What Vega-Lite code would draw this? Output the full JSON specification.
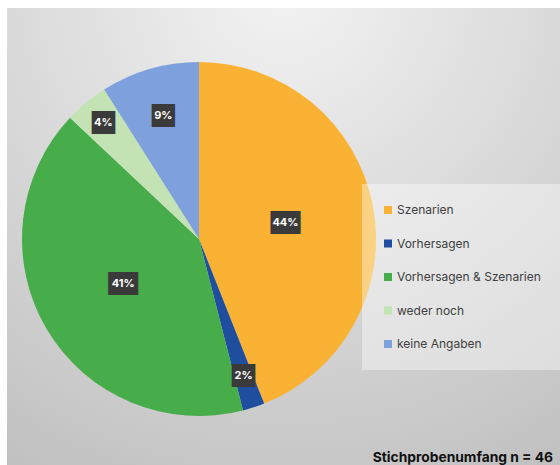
{
  "$schema": "https://vega.github.io/schema/vega-lite/v6.json",
  "width": 553,
  "height": 457,
  "autosize": {"type": "none"},
  "padding": {"left": 7, "top": 8, "right": 0, "bottom": 0},
  "background": "white",
  "config": {"view": {"stroke": null}, "font": "Inter"},
  "title": {
    "text": "Stichprobenumfang n = 46",
    "orient": "bottom",
    "anchor": "end",
    "frame": "group",
    "offset": -14,
    "dx": -7,
    "fontSize": 13.8,
    "fontWeight": "bold",
    "color": "#111111",
    "font": "Inter"
  },
  "datasets": {
    "d": [
      {"cat": "Szenarien", "pct": 44, "idx": 1},
      {"cat": "Vorhersagen", "pct": 2, "idx": 2},
      {"cat": "Vorhersagen & Szenarien", "pct": 41, "idx": 3},
      {"cat": "weder noch", "pct": 4, "idx": 4},
      {"cat": "keine Angaben", "pct": 9, "idx": 5}
    ]
  },
  "layer": [
    {
      "data": {"values": [{}]},
      "mark": {
        "type": "rect",
        "fill": {
          "gradient": "radial",
          "x1": 0.5, "y1": 0.05, "r1": 0,
          "x2": 0.5, "y2": 0.05, "r2": 1.0,
          "stops": [
            {"offset": 0, "color": "#f3f3f3"},
            {"offset": 1, "color": "#c0c0c0"}
          ]
        }
      },
      "encoding": {}
    },
    {
      "data": {"name": "d"},
      "mark": {"type": "arc", "outerRadius": 177, "x": 192, "y": 231},
      "encoding": {
        "theta": {"field": "pct", "type": "quantitative", "stack": true, "scale": {"domain": [0, 100]}},
        "order": {"field": "idx", "type": "quantitative"},
        "color": {
          "field": "cat",
          "type": "nominal",
          "scale": {
            "domain": ["Szenarien", "Vorhersagen", "Vorhersagen & Szenarien", "weder noch", "keine Angaben"],
            "range": ["#F9B233", "#1F4E9E", "#47AD4B", "#C4E3B4", "#7EA1DE"]
          },
          "legend": {
            "orient": "none",
            "legendX": 355,
            "legendY": 176,
            "title": null,
            "symbolType": "square",
            "symbolSize": 64,
            "symbolStrokeWidth": 0,
            "labelFont": "Inter",
            "labelFontSize": 12,
            "labelColor": "#404040",
            "rowPadding": 21.5,
            "padding": 20,
            "labelOffset": 3,
            "fillColor": "rgba(255,255,255,0.4)"
          }
        }
      }
    },
    {
      "data": {"name": "d"},
      "transform": [
        {"stack": "pct", "sort": [{"field": "idx"}], "groupby": [], "as": ["t0", "t1"]},
        {"calculate": "(datum.t0 + datum.t1) / 2", "as": "mid"},
        {"calculate": "datum.pct + '%'", "as": "label"},
        {"calculate": "length(datum.label) > 2 ? '███' : '██'", "as": "box"},
        {"calculate": "datum.cat === 'Szenarien' ? 88 : datum.cat === 'Vorhersagen' ? 144 : datum.cat === 'Vorhersagen & Szenarien' ? 88 : datum.cat === 'weder noch' ? 150 : 128", "as": "lr"}
      ],
      "mark": {"type": "text", "x": 192, "y": 231, "font": "DejaVu Sans Mono", "fontSize": 11, "fill": "#3a3a3a", "stroke": "#3a3a3a", "strokeWidth": 10, "strokeJoin": "miter", "align": "center", "baseline": "middle"},
      "encoding": {
        "theta": {"field": "mid", "type": "quantitative", "stack": null, "scale": {"domain": [0, 100]}},
        "radius": {"field": "lr", "type": "quantitative", "scale": null},
        "text": {"field": "box"}
      }
    },
    {
      "data": {"name": "d"},
      "transform": [
        {"stack": "pct", "sort": [{"field": "idx"}], "groupby": [], "as": ["t0", "t1"]},
        {"calculate": "(datum.t0 + datum.t1) / 2", "as": "mid"},
        {"calculate": "datum.pct + '%'", "as": "label"},
        {"calculate": "datum.cat === 'Szenarien' ? 88 : datum.cat === 'Vorhersagen' ? 144 : datum.cat === 'Vorhersagen & Szenarien' ? 88 : datum.cat === 'weder noch' ? 150 : 128", "as": "lr"}
      ],
      "mark": {"type": "text", "x": 192, "y": 231, "font": "Inter", "fontSize": 11, "fontWeight": "bold", "fill": "#ffffff", "align": "center", "baseline": "middle"},
      "encoding": {
        "theta": {"field": "mid", "type": "quantitative", "stack": null, "scale": {"domain": [0, 100]}},
        "radius": {"field": "lr", "type": "quantitative", "scale": null},
        "text": {"field": "label"}
      }
    }
  ]
}
